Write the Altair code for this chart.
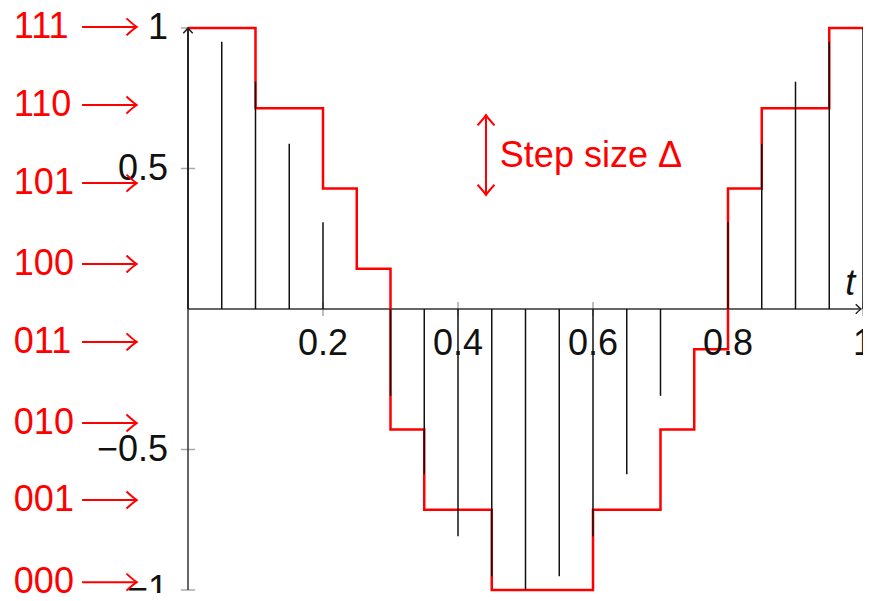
import altair as alt
import pandas as pd

# ---------------- data ----------------
t_samples = [0.00, 0.05, 0.10, 0.15, 0.20, 0.25, 0.30, 0.35, 0.40, 0.45, 0.50,
             0.55, 0.60, 0.65, 0.70, 0.75, 0.80, 0.85, 0.90, 0.95, 1.00]
signal = [1.0, 0.951, 0.809, 0.588, 0.309, 0.0, -0.309, -0.588, -0.809, -0.951, -1.0,
          -0.951, -0.809, -0.588, -0.309, 0.0, 0.309, 0.588, 0.809, 0.951, 1.0]
codes = [7, 7, 6, 6, 5, 4, 2, 1, 1, 0, 0, 0, 1, 1, 2, 3, 5, 6, 6, 7, 7]
levels = [-1.0, -0.714, -0.429, -0.143, 0.143, 0.429, 0.714, 1.0]
code_labels = ["000", "001", "010", "011", "100", "101", "110", "111"]
code_label_y = [-0.972, -0.68, -0.406, -0.117, 0.16, 0.448, 0.726, 1.004]

x_ticks = [0.2, 0.4, 0.6, 0.8, 1.0]
x_tick_labels = ["0.2", "0.4", "0.6", "0.8", "1"]
y_ticks = [-1.0, -0.5, 0.5, 1.0]
y_tick_labels = ["\u22121", "\u22120.5", "0.5", "1"]

# annotation anchors (data units)
code_label_x = [-0.258]
code_arrow_x = [-0.157, -0.076]
step_arrow_x = [0.4415]
step_arrow_y = [0.406, 0.69]
step_text = ["Step size \u0394"]
step_text_pos = [0.462, 0.545]
t_label_pos = [0.981, 0.05]

FONT = "Liberation Sans"
FS = 36
RED = "#ff0000"

xs = alt.Scale(domain=[0, 1], nice=False, zero=False)
ys = alt.Scale(domain=[-1, 1], nice=False, zero=False)

def X(f="x"):
    return alt.X(f"{f}:Q", scale=xs, axis=None)

def Y(f="y"):
    return alt.Y(f"{f}:Q", scale=ys, axis=None)

samples = pd.DataFrame({"x": t_samples, "y": signal, "y0": [0.0] * len(t_samples),
                        "q": [levels[c] for c in codes]})
levels_df = pd.DataFrame({"y": code_label_y, "label": code_labels,
                          "x": code_label_x * len(code_labels),
                          "xa": [code_arrow_x[0]] * len(code_labels),
                          "xb": [code_arrow_x[1]] * len(code_labels)})
xt = pd.DataFrame({"x": x_ticks, "label": x_tick_labels, "ya": [-0.025] * 5, "yb": [0.025] * 5,
                   "y": [0.0] * 5})
yt = pd.DataFrame({"y": y_ticks, "label": y_tick_labels, "x": [0.0] * 4,
                   "xa": [-0.0105] * 4, "xb": [0.0105] * 4})

# staircase (quantized signal)
stairs = alt.Chart(samples).mark_line(interpolate="step-after", color=RED, strokeWidth=2.5).encode(
    x=X(), y=Y("q"))

# stems
stems = alt.Chart(samples).mark_rule(color="#111", strokeWidth=1.5).encode(
    x=X(), y=Y("y0"), y2="y")

# axes lines
xaxis = alt.Chart(pd.DataFrame({"x": [0.0], "x2": [0.997], "y": [0.0]})).mark_rule(
    color="#333", strokeWidth=1.5).encode(x=X(), x2="x2", y=Y())
yaxis = alt.Chart(pd.DataFrame({"x": [0.0], "y": [-1.0], "y2": [1.0]})).mark_rule(
    color="#333", strokeWidth=1.5).encode(x=X(), y=Y(), y2="y2")

xarrow = alt.Chart(pd.DataFrame({"x": [0.997], "y": [0.0]})).mark_point(
    shape="M -1.1 -1 Q -0.4 -0.3 0 0 Q -0.4 0.3 -1.1 1", filled=False, size=90,
    stroke="#222", strokeWidth=1.5, opacity=1).encode(x=X(), y=Y())
yarrow = alt.Chart(pd.DataFrame({"x": [0.0], "y": [1.0]})).mark_point(
    shape="M -1 1.1 Q -0.3 0.4 0 0 Q 0.3 0.4 1 1.1", filled=False, size=90,
    stroke="#222", strokeWidth=1.5, opacity=1).encode(x=X(), y=Y())

# ticks
xticks = alt.Chart(xt).mark_rule(color="#aaaaaa", strokeWidth=1.5).encode(
    x=X(), y=Y("ya"), y2="yb")
yticks = alt.Chart(yt).mark_rule(color="#aaaaaa", strokeWidth=1.5).encode(
    x=X("xa"), x2="xb", y=Y())

xlabels = alt.Chart(xt).mark_text(font=FONT, fontSize=FS, align="center", baseline="alphabetic",
                                  dy=46, color="#111").encode(x=X(), y=Y(), text="label:N")
ylabels = alt.Chart(yt).mark_text(font=FONT, fontSize=FS, align="right", baseline="middle",
                                  dx=-20, color="#111").encode(x=X(), y=Y(), text="label:N")

tlabel = alt.Chart(pd.DataFrame({"x": [t_label_pos[0]], "y": [t_label_pos[1]], "label": ["t"]})).mark_text(
    font=FONT, fontSize=FS, fontStyle="italic", align="center", baseline="alphabetic",
    color="#111").encode(x=X(), y=Y(), text="label:N")

# binary code labels with arrows
code_text = alt.Chart(levels_df).mark_text(font=FONT, fontSize=FS, align="left", baseline="middle",
                                           color=RED).encode(x=X(), y=Y(), text="label:N")
code_shaft = alt.Chart(levels_df).mark_rule(color=RED, strokeWidth=2).encode(
    x=X("xa"), x2="xb", y=Y())
code_head = alt.Chart(levels_df).mark_point(
    shape="M -1.2 -1 Q -0.45 -0.3 0 0 Q -0.45 0.3 -1.2 1", filled=False, size=289,
    stroke=RED, strokeWidth=2, opacity=1).encode(x=X("xb"), y=Y())

# step size annotation
step_df = pd.DataFrame({"x": step_arrow_x, "y": [step_arrow_y[0]], "y2": [step_arrow_y[1]]})
step_shaft = alt.Chart(step_df).mark_rule(color=RED, strokeWidth=2).encode(
    x=X(), y=Y(), y2="y2")
step_top = alt.Chart(pd.DataFrame({"x": step_arrow_x, "y": [step_arrow_y[1]]})).mark_point(
    shape="M -1 1.2 Q -0.3 0.45 0 0 Q 0.3 0.45 1 1.2", filled=False, size=289,
    stroke=RED, strokeWidth=2, opacity=1).encode(x=X(), y=Y())
step_bot = alt.Chart(pd.DataFrame({"x": step_arrow_x, "y": [step_arrow_y[0]]})).mark_point(
    shape="M -1 -1.2 Q -0.3 -0.45 0 0 Q 0.3 -0.45 1 -1.2", filled=False, size=289,
    stroke=RED, strokeWidth=2, opacity=1).encode(x=X(), y=Y())
step_label = alt.Chart(pd.DataFrame({"x": [step_text_pos[0]], "y": [step_text_pos[1]],
                                     "label": step_text})).mark_text(
    font=FONT, fontSize=FS, align="left", baseline="middle", color=RED).encode(
    x=X(), y=Y(), text="label:N")

chart = alt.layer(
    xticks, yticks, xaxis, yaxis, stairs, stems, xarrow, yarrow,
    xlabels, ylabels, tlabel,
    code_text, code_shaft, code_head,
    step_shaft, step_top, step_bot, step_label,
).properties(
    width=675, height=562,
    autosize=alt.AutoSizeParams(type="none"),
    padding={"left": 180, "top": 20, "right": 0, "bottom": 3},
    background="white",
).configure_view(stroke=None)

chart.save("out.html", embed_options={"renderer": "svg", "actions": False})
